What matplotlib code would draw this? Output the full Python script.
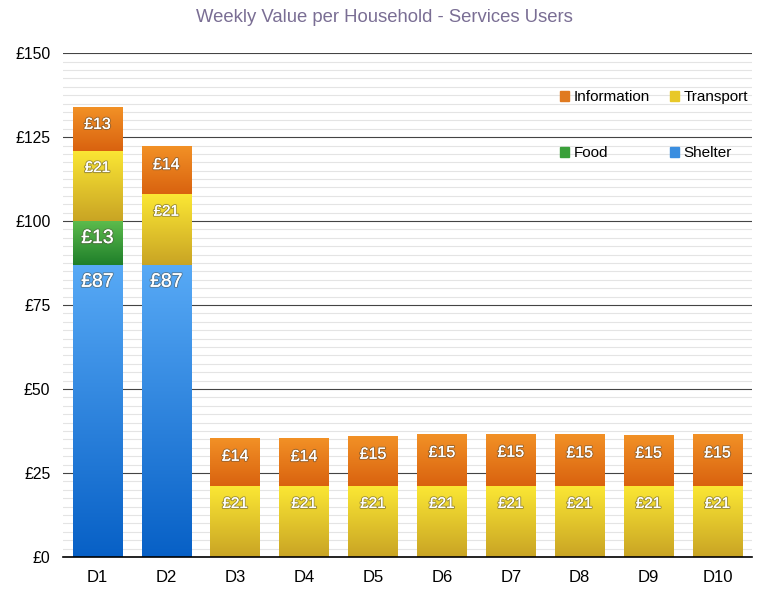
import numpy as np
import matplotlib
matplotlib.use("Agg")
import matplotlib.pyplot as plt
from matplotlib.colors import LinearSegmentedColormap
from matplotlib.patches import Patch
import matplotlib.patheffects as pe

plt.rcParams['font.family'] = ['Liberation Sans', 'DejaVu Sans']

# data
districts = ["D1", "D2", "D3", "D4", "D5", "D6", "D7", "D8", "D9", "D10"]
shelter = [87, 87, 0, 0, 0, 0, 0, 0, 0, 0]
food = [13, 0, 0, 0, 0, 0, 0, 0, 0, 0]
transport = [21, 21, 21, 21, 21, 21, 21, 21, 21, 21]
information = [13, 14, 14.2, 14.1, 14.8, 15.3, 15.4, 15.2, 15.1, 15.2]
yticks = [0, 25, 50, 75, 100, 125, 150]

series = [
    ("Shelter", shelter, "#58aaf6", "#0760c6", "#3a8ee0", 14),
    ("Food", food, "#5cbb4c", "#1f7f2a", "#3aa03a", 14),
    ("Transport", transport, "#fbe734", "#c9a424", "#e8c828", 11),
    ("Information", information, "#f29126", "#d9620f", "#e07a20", 11.5),
]

fig = plt.figure(figsize=(7.68, 5.97), dpi=100)
ax = fig.add_axes([0.082, 0.067, 0.897, 0.844])

x = np.arange(len(districts))
width = 0.72
bottom = np.zeros(len(districts))
grad = np.linspace(0, 1, 256).reshape(-1, 1)

for name, vals, ctop, cbot, cleg, fs in series:
    vals = np.array(vals, dtype=float)
    bars = ax.bar(x, vals, width, bottom=bottom, color="none", edgecolor="none", zorder=2)
    cmap = LinearSegmentedColormap.from_list(name, [ctop, cbot])
    for rect, v, b in zip(bars, vals, bottom):
        if v <= 0:
            continue
        x0 = rect.get_x()
        ax.imshow(grad, cmap=cmap, aspect="auto", zorder=2, origin="upper",
                  extent=[x0, x0 + rect.get_width(), b, b + v])
        ax.text(rect.get_x() + rect.get_width() / 2, b + v - 5.2,
                "£%d" % round(v), ha="center", va="center", color="white",
                fontsize=fs, zorder=4,
                path_effects=[pe.withStroke(linewidth=1.6, foreground="#55504080"),
                              pe.Normal()])
    bottom = bottom + vals

ax.set_xlim(-0.5, len(districts) - 0.5)
ax.set_ylim(0, 150)

ax.set_yticks(yticks)
ax.set_yticklabels(["£%d" % t for t in yticks], fontsize=11.3)
ax.set_yticks(np.arange(0, 150, 2.5), minor=True)
ax.set_xticks(x)
ax.set_xticklabels(districts, fontsize=12)
ax.tick_params(axis="y", which="both", length=0, pad=9)
ax.tick_params(axis="x", length=0, pad=9)

ax.grid(axis="y", which="minor", color="#e4e4e4", linewidth=0.8, zorder=0)
ax.grid(axis="y", which="major", color="#444444", linewidth=0.8, zorder=1)
ax.set_axisbelow(True)

for s in ["top", "right", "left"]:
    ax.spines[s].set_visible(False)
ax.spines["bottom"].set_color("black")
ax.spines["bottom"].set_linewidth(1.2)
ax.spines["bottom"].set_zorder(5)

handles = [Patch(color=series[3][4], label="Information"),
           Patch(color=series[1][4], label="Food"),
           Patch(color=series[2][4], label="Transport"),
           Patch(color=series[0][4], label="Shelter")]
leg = ax.legend(handles=handles, ncol=2, loc="upper right", frameon=False,
                fontsize=11, handlelength=0.6, handleheight=0.6,
                handletextpad=0.3, labelspacing=2.75, columnspacing=1.3,
                bbox_to_anchor=(1.003, 0.938), borderaxespad=0.0)

fig.suptitle("Weekly Value per Household - Services Users", y=0.985,
             fontsize=13.3, color="#7a6e94")

fig.savefig("out.png", dpi=100)
